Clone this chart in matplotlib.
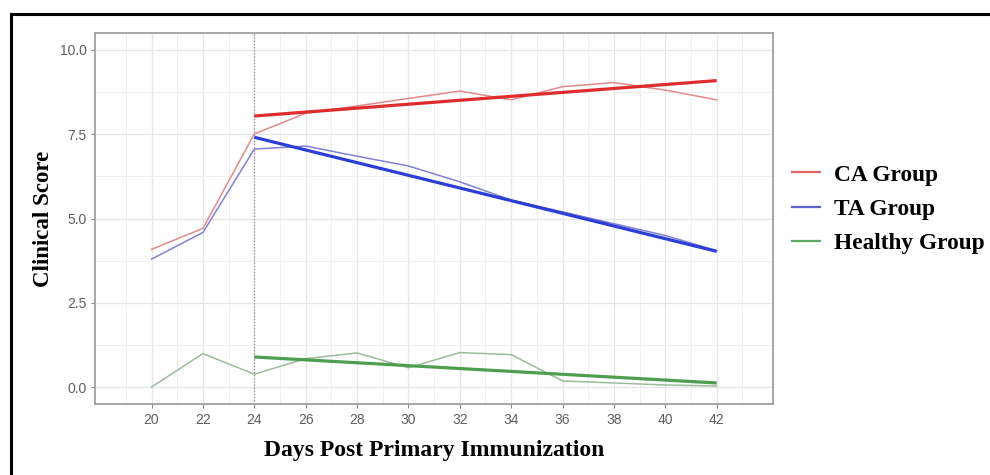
import numpy as np
import matplotlib
matplotlib.use("Agg")
import matplotlib.pyplot as plt
from matplotlib.lines import Line2D

days = [20, 22, 24, 26, 28, 30, 32, 34, 36, 38, 40, 42]
ca_score = [4.09, 4.71, 7.51, 8.12, 8.34, 8.56, 8.78, 8.52, 8.91, 9.03, 8.81, 8.52]
ta_score = [3.80, 4.59, 7.06, 7.15, 6.85, 6.56, 6.09, 5.55, 5.20, 4.85, 4.50, 4.05]
healthy_score = [0.01, 1.00, 0.39, 0.85, 1.02, 0.58, 1.03, 0.97, 0.19, 0.13, 0.07, 0.04]

# trend lines after the boost (day 24 onwards)
fit_days = [24, 42]
ca_fit = [8.04, 9.09]
ta_fit = [7.41, 4.03]
healthy_fit = [0.90, 0.13]

groups = ["CA Group", "TA Group", "Healthy Group"]
x_ticks = list(range(20, 43, 2))
y_ticks = [0.0, 2.5, 5.0, 7.5, 10.0]

thin_colors = ["#e48a8a", "#8080d6", "#9cbb9c"]
fit_colors = ["#df2c2c", "#2b3ed6", "#4f9e4f"]
legend_colors = ["#e36363", "#5a63d0", "#62a862"]

fig = plt.figure(figsize=(9.9, 4.75), dpi=100)
ax = fig.add_axes([0.096, 0.149, 0.685, 0.7815])

# grid like ggplot theme_bw
ax.set_xticks(x_ticks)
ax.set_xticks(np.arange(19, 44, 2), minor=True)
ax.set_yticks(y_ticks)
ax.set_yticks([1.25, 3.75, 6.25, 8.75], minor=True)
ax.grid(which="major", color="#e6e6e6", linewidth=0.9)
ax.grid(which="minor", color="#f0f0f0", linewidth=0.7)
ax.set_axisbelow(True)

ax.axvline(24, color="#8c8c8c", linestyle=(0, (1, 1.5)), linewidth=0.9)

for vals, c in zip([ca_score, ta_score, healthy_score], thin_colors):
    ax.plot(days, vals, color=c, linewidth=1.1)
for vals, c in zip([ca_fit, ta_fit, healthy_fit], fit_colors):
    ax.plot(fit_days, vals, color=c, linewidth=2.3, solid_capstyle="butt")

ax.set_xlim(17.8, 44.2)
ax.set_ylim(-0.5, 10.5)
ax.set_yticklabels([f"{v:.1f}" for v in y_ticks])

for s in ax.spines.values():
    s.set_color("#a0a0a0")
    s.set_linewidth(1.3)

ax.tick_params(which="major", length=3, width=0.8, color="#888888",
               labelsize=10, labelcolor="#5e5e5e", pad=3)
ax.tick_params(which="minor", length=0)
for lab in ax.get_xticklabels() + ax.get_yticklabels():
    lab.set_fontfamily("Liberation Sans")

ax.set_xlabel("Days Post Primary Immunization", family="Liberation Serif",
              fontweight="bold", fontsize=17, labelpad=10)
ax.set_ylabel("Clinical Score", family="Liberation Serif",
              fontweight="bold", fontsize=16.5, labelpad=4)

handles = [Line2D([], [], color=c, linewidth=1.6) for c in legend_colors]
fig.legend(handles, groups, loc="center left", bbox_to_anchor=(0.80, 0.56),
           frameon=False, borderpad=0, borderaxespad=0, handlelength=1.2,
           handletextpad=0.6, labelspacing=0.55,
           prop={"family": "Liberation Serif", "weight": "bold", "size": 16.8})

# black frame around the picture (top and left edges visible)
fig.add_artist(Line2D([0.011, 1.0], [0.971, 0.971], transform=fig.transFigure,
                      color="black", linewidth=2.2))
fig.add_artist(Line2D([0.011, 0.011], [0.0, 0.971], transform=fig.transFigure,
                      color="black", linewidth=2.2))

fig.savefig("out.png", dpi=100)
